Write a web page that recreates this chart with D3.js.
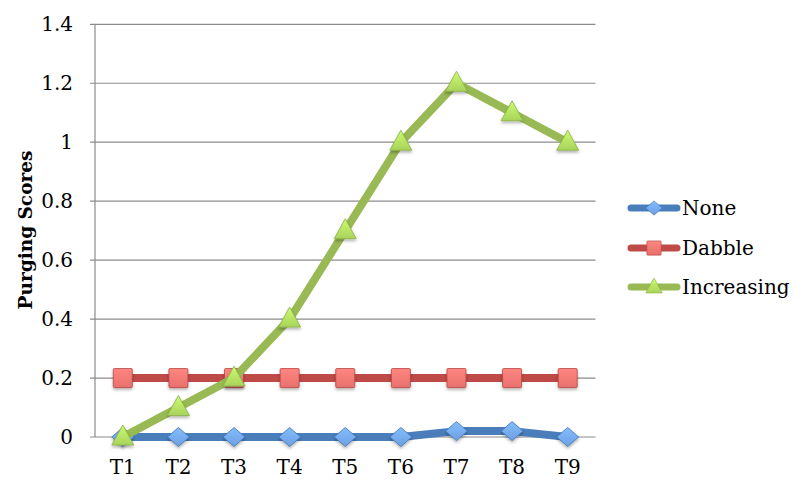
<!DOCTYPE html>
<html>
<head>
<meta charset="utf-8">
<script src="https://cdn.jsdelivr.net/npm/d3@7"></script>
<style>
body { margin: 0; background: #fff; }
text { font-family: "DejaVu Serif", "Liberation Serif", serif; }
</style>
</head>
<body>
<script>
var categories = ["T1", "T2", "T3", "T4", "T5", "T6", "T7", "T8", "T9"];
var noneValues = [0, 0, 0, 0, 0, 0, 0.02, 0.02, 0];
var dabbleValues = [0.2, 0.2, 0.2, 0.2, 0.2, 0.2, 0.2, 0.2, 0.2];
var increasingValues = [0, 0.1, 0.2, 0.4, 0.7, 1.0, 1.2, 1.1, 1.0];
var yTicks = [0, 0.2, 0.4, 0.6, 0.8, 1, 1.2, 1.4];

var series = [
    { name: "None", values: noneValues, line: "#4a7ebb", fill: "#6d9fe0", edge: "#3f72b5", shape: "diamond" },
    { name: "Dabble", values: dabbleValues, line: "#be4b48", fill: "#e8706c", edge: "#b84541", shape: "square" },
    { name: "Increasing", values: increasingValues, line: "#98b954", fill: "#a9d35c", edge: "#8cb048", shape: "triangle" }
];

var width = 800, height = 491;
var plotLeft = 95, plotRight = 595.5, plotTop = 24.3, plotBottom = 437;

var svg = d3.select("body").append("svg")
    .attr("width", width)
    .attr("height", height);

var defs = svg.append("defs");
var shadow = defs.append("filter").attr("id", "shadow")
    .attr("x", "-50%").attr("y", "-50%").attr("width", "200%").attr("height", "200%");
shadow.append("feDropShadow")
    .attr("dx", 0).attr("dy", 2).attr("stdDeviation", 1.5)
    .attr("flood-color", "#000").attr("flood-opacity", 0.3);

series.forEach(function (s, i) {
    var g = defs.append("linearGradient").attr("id", "grad" + i)
        .attr("x1", 0).attr("y1", 0).attr("x2", 0).attr("y2", 1);
    g.append("stop").attr("offset", "0%").attr("stop-color", d3.color(s.fill).brighter(0.5));
    g.append("stop").attr("offset", "100%").attr("stop-color", s.fill);
});

var x = d3.scaleBand().domain(categories).range([plotLeft, plotRight]);
var y = d3.scaleLinear().domain([0, 1.4]).range([plotBottom, plotTop]);

// gridlines
svg.append("g").selectAll("line")
    .data(yTicks)
    .enter()
    .append("line")
    .attr("x1", plotLeft - 5)
    .attr("x2", plotRight)
    .attr("y1", function (d) { return y(d); })
    .attr("y2", function (d) { return y(d); })
    .style("stroke", "#8c8c8c")
    .style("stroke-width", 1.2);

// y axis line
svg.append("line")
    .attr("x1", plotLeft).attr("x2", plotLeft)
    .attr("y1", plotTop).attr("y2", plotBottom)
    .style("stroke", "#8c8c8c")
    .style("stroke-width", 1.2);

// y tick labels
svg.append("g").selectAll("text")
    .data(yTicks)
    .enter()
    .append("text")
    .attr("x", 73)
    .attr("y", function (d) { return y(d); })
    .attr("dy", "0.35em")
    .attr("text-anchor", "end")
    .style("font-size", "20px")
    .text(function (d) { return d3.format("")(d); });

// x tick labels
svg.append("g").selectAll("text")
    .data(categories)
    .enter()
    .append("text")
    .attr("x", function (d) { return x(d) + x.bandwidth() / 2; })
    .attr("y", 474)
    .attr("text-anchor", "middle")
    .style("font-size", "20px")
    .text(function (d) { return d; });

// y title
svg.append("text")
    .attr("transform", "translate(32,230) rotate(-90)")
    .attr("text-anchor", "middle")
    .style("font-size", "18.5px")
    .style("font-weight", "bold")
    .text("Purging Scores");

function marker(sel, shape) {
    if (shape === "diamond") {
        sel.append("path").attr("d", "M0,-9.5L11,0L0,9.5L-11,0Z");
    } else if (shape === "square") {
        sel.append("rect").attr("x", -9.5).attr("y", -9.5).attr("width", 19).attr("height", 19).attr("rx", 1);
    } else {
        sel.append("path").attr("d", "M0,-12L11,8L-11,8Z");
    }
}

var line = d3.line()
    .x(function (d, i) { return x(categories[i]) + x.bandwidth() / 2; })
    .y(function (d) { return y(d); });

series.forEach(function (s, si) {
    var g = svg.append("g");
    g.append("path")
        .datum(s.values)
        .attr("d", line)
        .style("fill", "none")
        .style("stroke", s.line)
        .style("stroke-width", 8)
        .style("stroke-linejoin", "round")
        .style("stroke-linecap", "round");
    s.values.forEach(function (v, i) {
        var m = g.append("g")
            .attr("transform", "translate(" + (x(categories[i]) + x.bandwidth() / 2) + "," + y(v) + ")")
            .attr("filter", "url(#shadow)")
            .style("fill", "url(#grad" + si + ")")
            .style("stroke", s.edge)
            .style("stroke-width", 0.8);
        marker(m, s.shape);
    });
});

// legend
var legendY = [208, 248, 287];
series.forEach(function (s, si) {
    var g = svg.append("g").attr("transform", "translate(0," + legendY[si] + ")");
    g.append("line")
        .attr("x1", 631).attr("x2", 677)
        .attr("y1", 0).attr("y2", 0)
        .style("stroke", s.line)
        .style("stroke-width", 7)
        .style("stroke-linecap", "round");
    var m = g.append("g")
        .attr("transform", "translate(654,0) scale(0.75)")
        .style("fill", "url(#grad" + si + ")")
        .style("stroke", s.edge)
        .style("stroke-width", 0.8);
    marker(m, s.shape);
    g.append("text")
        .attr("x", 682)
        .attr("y", 0)
        .attr("dy", "0.35em")
        .style("font-size", "20px")
        .text(s.name);
});
</script>
</body>
</html>
